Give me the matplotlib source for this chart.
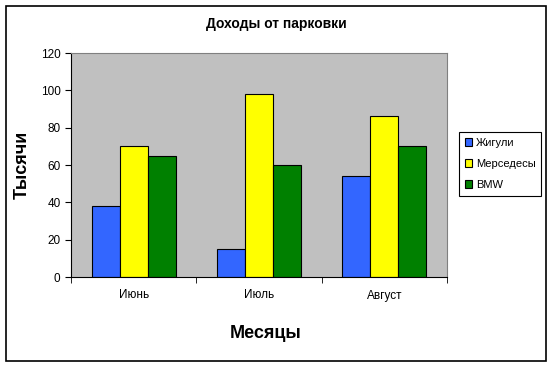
import matplotlib.pyplot as plt
from matplotlib.patches import Rectangle
import numpy as np

plt.rcParams['font.family'] = ['Liberation Sans', 'DejaVu Sans']

months = ['Июнь', 'Июль', 'Август']
series = ['Жигули', 'Мерседесы', 'BMW']
zhiguli = [38, 15, 54]
mercedes = [70, 98, 86]
bmw = [65, 60, 70]
colors = ['#3366FF', '#FFFF00', '#008000']

fig = plt.figure(figsize=(5.53, 3.67), dpi=100)
ax = fig.add_axes([71/553, 1 - 277/367, 376/553, 224/367])
ax.set_facecolor('#C0C0C0')

x = np.arange(len(months))
w = 0.224
for i, (vals, name) in enumerate(zip([zhiguli, mercedes, bmw], series)):
    ax.bar(x + (i - 1) * w, vals, w, color=colors[i], edgecolor='black',
           linewidth=0.8, label=name, zorder=2)

ax.set_xlim(-0.5, 2.5)
ax.set_ylim(0, 120)
ax.set_yticks(range(0, 121, 20))
ax.set_xticks(x)
ax.set_xticklabels(months)
ax.set_xticks([-0.5, 0.5, 1.5, 2.5], minor=True)
ax.tick_params(axis='x', which='major', length=0, pad=9, labelsize=8.5)
ax.tick_params(axis='x', which='minor', length=4, direction='out')
ax.tick_params(axis='y', length=4, direction='out', labelsize=8.5)
for s in ['top', 'right']:
    ax.spines[s].set_color('#808080')
for s in ['left', 'bottom']:
    ax.spines[s].set_color('black')

fig.text(276/553, 1 - 24/367, 'Доходы от парковки', ha='center', va='center',
         fontsize=10, fontweight='bold')
fig.text(22/553, 1 - 165/367, 'Тысячи', ha='center', va='center', rotation=90,
         fontsize=13, fontweight='bold')
fig.text(266/553, 1 - 333/367, 'Месяцы', ha='center', va='center',
         fontsize=13, fontweight='bold')

leg = ax.legend(loc='center left', bbox_to_anchor=(459/553, 1 - 164/367),
                bbox_transform=fig.transFigure, fancybox=False, framealpha=1,
                edgecolor='black', fontsize=8, handlelength=0.7, handleheight=0.7,
                handletextpad=0.3, borderpad=0.5, labelspacing=1.0,
                borderaxespad=0)
leg.get_frame().set_linewidth(0.8)

fig.patches.append(Rectangle((6/553, 6/367), 540/553, 355/367, transform=fig.transFigure,
                             fill=False, edgecolor='black', linewidth=1.2))

fig.savefig('out.png', dpi=100)
